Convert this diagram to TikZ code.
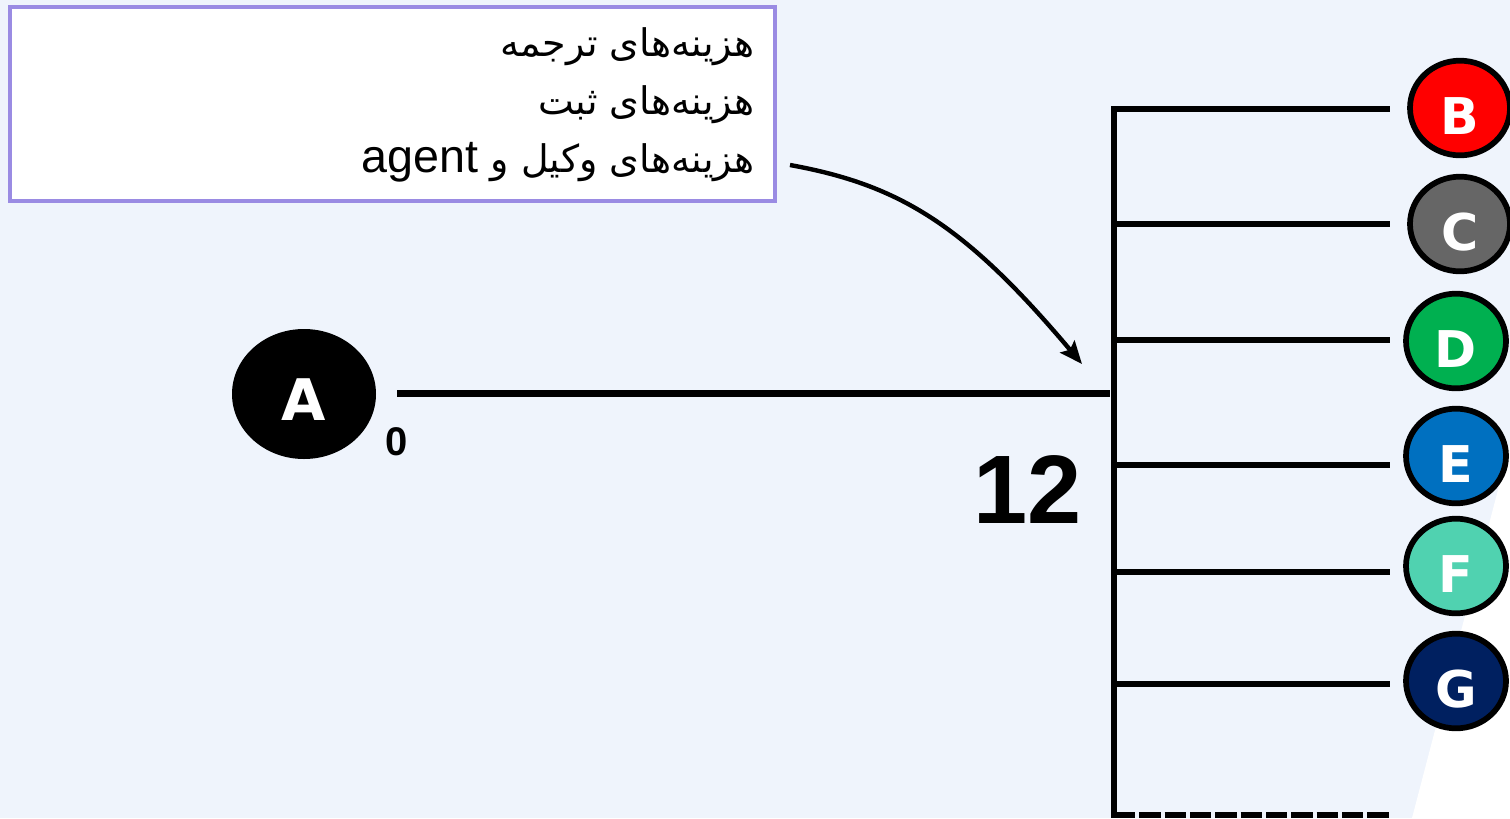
\documentclass[tikz,border=0pt]{standalone}
\usepackage{fontspec}
\setmainfont{DejaVu Sans}
\newfontfamily\arabicfont[Script=Arabic]{DejaVu Sans}
\newfontfamily\numfont{Liberation Sans}
\TeXXeTstate=1
\usetikzlibrary{shapes.geometric,arrows.meta}

\definecolor{pagebg}{HTML}{EFF4FC}
\definecolor{boxline}{HTML}{9A8BE3}
\definecolor{colB}{HTML}{FF0000}
\definecolor{colC}{HTML}{666666}
\definecolor{colD}{HTML}{00B050}
\definecolor{colE}{HTML}{0070C0}
\definecolor{colF}{HTML}{50D2B0}
\definecolor{colG}{HTML}{002060}

\tikzset{
  leaf/.style={ellipse,draw=black,line width=4.3pt,minimum width=75pt,minimum height=71pt,
    inner sep=0pt,text height=40pt,text depth=0pt,text=white,font=\bfseries\fontsize{38}{38}\selectfont},
  rootleaf/.style={ellipse,fill=black,minimum width=108pt,minimum height=97.5pt,
    inner sep=0pt,text height=39pt,text depth=0pt,text=white,font=\bfseries\fontsize{43}{43}\selectfont},
  stem/.style={line width=5.25pt},
  trunk/.style={line width=5pt},
  branch/.style={line width=4.3pt},
  noteline/.style={anchor=base east,inner sep=0pt,font=\arabicfont\fontsize{28.5}{28.5}\selectfont},
  period/.style={inner sep=0pt,font=\numfont\bfseries\fontsize{#1}{#1}\selectfont},
}

\begin{document}
\begin{tikzpicture}[x=0.75pt,y=-0.75pt]
  \fill[pagebg] (0,0) rectangle (1510,818);
  \fill[white] (1412,818) -- (1510,444) -- (1510,818) -- cycle;
  \useasboundingbox (0,0) rectangle (1510,818);

  % cost box
  \node[draw=boxline,line width=2.6pt,fill=white,minimum width=573.75pt,minimum height=145.5pt,inner sep=0pt] (box) at (392.5,104) {};
  \node[noteline] (l1) at (755,56) {\beginR هزینه‌های ترجمه\endR};
  \node[noteline] (l2) at (755,114) {\beginR هزینه‌های ثبت\endR};
  \node[noteline] (l3) at (755,172) {\beginR هزینه‌های وکیل و \beginL{\numfont\fontsize{35}{35}\selectfont agent}\endL\endR};

  % start point and timeline
  \node[rootleaf] (A) at (304,394) {A};
  \coordinate (root) at (397,393.5);
  \coordinate (hub) at (1110,393.5);
  \draw[stem] (root) -- (hub);
  \node[period=30] (zero) at (397,442) {0};
  \node[period=73] (twelve) at (1028,490) {12};

  \coordinate (tail) at (790,165);
  \coordinate (head) at (1082,364);
  \draw[line width=3.3pt,-{Stealth[length=17pt,width=14pt,inset=3pt]}] (tail) .. controls (900,185) and (965,225) .. (head);

  % the split
  \coordinate (top) at (1114,106);
  \coordinate (foot) at (1114,818);
  \draw[trunk] (top) -- (foot);
  \coordinate (stop) at (1390,0);
  \coordinate (jB) at (1114,109);
  \coordinate (jC) at (1114,224);
  \coordinate (jD) at (1114,340);
  \coordinate (jE) at (1114,465);
  \coordinate (jF) at (1114,572);
  \coordinate (jG) at (1114,684);
  \coordinate (jH) at (1114,815);
  \draw[branch] (jB) -- (jB -| stop);
  \draw[branch] (jC) -- (jC -| stop);
  \draw[branch] (jD) -- (jD -| stop);
  \draw[branch] (jE) -- (jE -| stop);
  \draw[branch] (jF) -- (jF -| stop);
  \draw[branch] (jG) -- (jG -| stop);
  \draw[branch,dash pattern=on 16pt off 3pt] (jH) -- (jH -| stop);

  \node[leaf,fill=colB] (B) at (1460,108) {B};
  \node[leaf,fill=colC] (C) at (1460,224) {C};
  \node[leaf,fill=colD] (D) at (1456,341) {D};
  \node[leaf,fill=colE] (E) at (1456,456) {E};
  \node[leaf,fill=colF] (F) at (1456,566) {F};
  \node[leaf,fill=colG] (G) at (1456,681) {G};
\end{tikzpicture}
\end{document}
